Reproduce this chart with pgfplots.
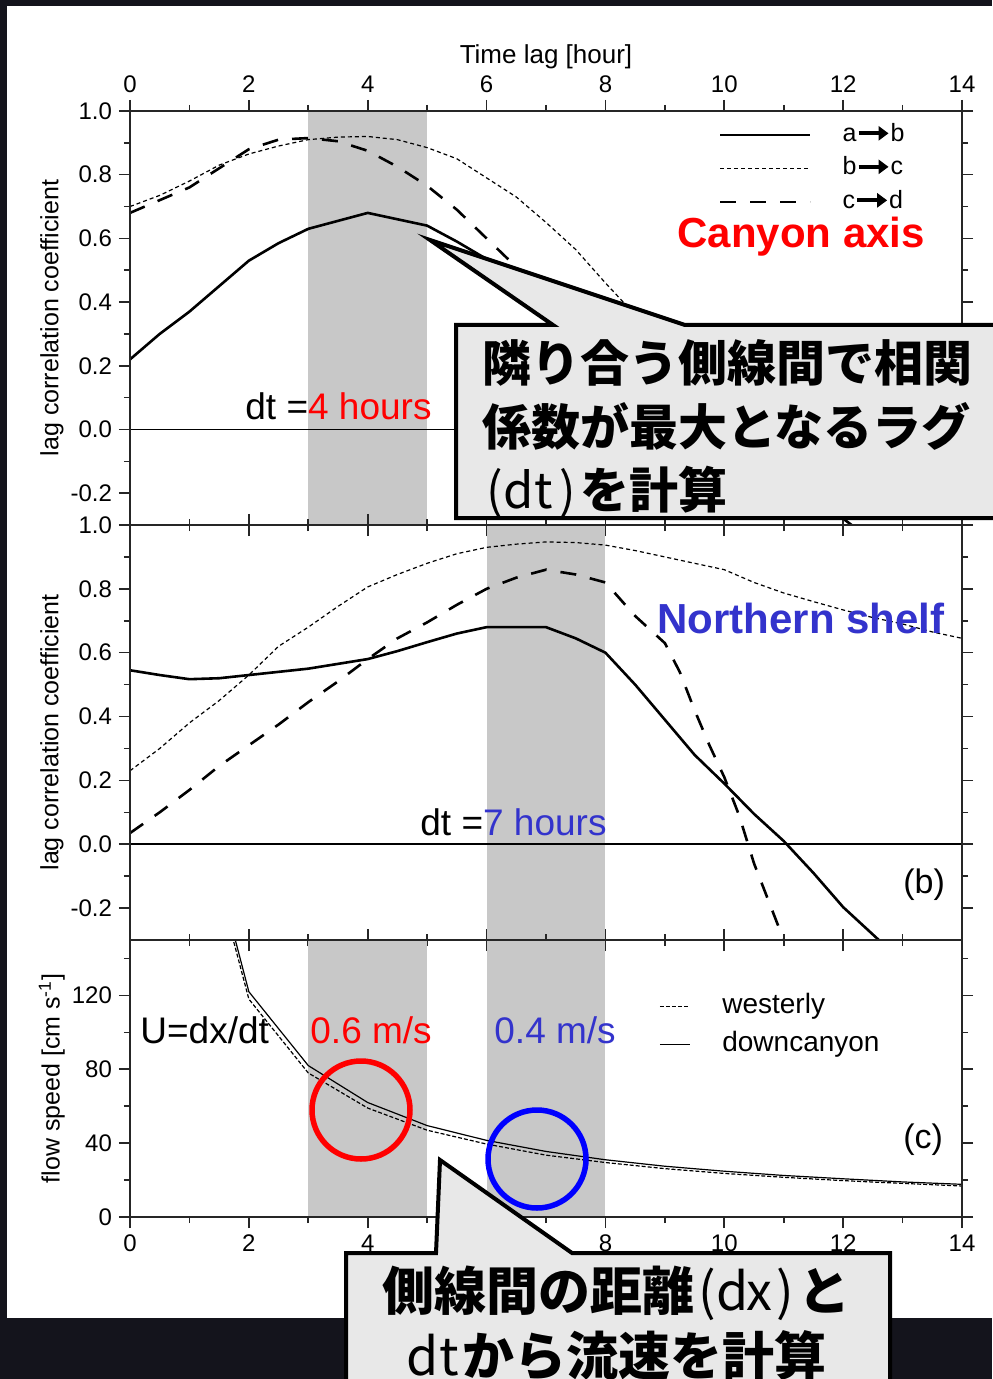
\documentclass[border=0pt]{standalone}
\usepackage{pgfplots}
\pgfplotsset{compat=1.18}
\usepackage{fontspec}
\setmainfont{Liberation Sans}
\newfontfamily\cjk{Noto Sans CJK JP}
\usetikzlibrary{arrows.meta}
\definecolor{bg}{RGB}{20,20,28}
\definecolor{shadegray}{RGB}{200,200,200}
\definecolor{boxfill}{RGB}{232,232,232}
\definecolor{myblue}{RGB}{51,51,204}
\definecolor{myred}{RGB}{255,0,0}
\newsavebox\arr
\newcommand\hw[1]{\makebox[0.5em][c]{\mdseries #1}}
\pgfplotsset{
  panel/.style={
    scale only axis, width=416pt, xmin=0, xmax=14,
    xtick={0,2,4,6,8,10,12,14}, minor xtick={1,3,5,7,9,11,13},
    tick align=outside, tick pos=both,
    major tick length=5.5pt, minor tick length=3pt,
    axis line style={black!85, line width=1pt},
    every tick/.style={black!85, line width=0.8pt},
    tick label style={font=\fontsize{12pt}{13pt}\selectfont},
    label style={font=\fontsize{12.5pt}{14pt}\selectfont},
    ylabel style={at={(axis description cs:-0.094,0.5)}, anchor=center},
    axis on top,
  },
  ab/.style={black, line width=1.3pt},
  bc/.style={black, line width=0.6pt, dash pattern=on 2pt off 1.5pt},
  cd/.style={black, line width=1.3pt, dash pattern=on 8pt off 7pt},
}
\begin{document}%
\sbox\arr{\tikz[baseline=0pt]\draw[line width=2pt,-{Triangle[length=5pt,width=7pt]}] (0,4pt) -- (15pt,4pt);}%
\begin{tikzpicture}
\path[use as bounding box] (0pt,0pt) rectangle (496pt,-689.5pt);
\fill[bg] (0pt,0pt) rectangle (496pt,-689.5pt);
\fill[white] (3.5pt,-3pt) rectangle (496pt,-659pt);

% ---------------- panel (a)
\begin{axis}[panel, at={(65pt,-55.5pt)}, anchor=north west, height=207pt,
  ymin=-0.3, ymax=1.0,
  ytick={-0.2,0,0.2,0.4,0.6,0.8,1.0}, yticklabels={-0.2,0.0,0.2,0.4,0.6,0.8,1.0},
  minor ytick={-0.1,0.1,0.3,0.5,0.7,0.9},
  xticklabel pos=upper, xticklabels={0,2,4,6,8,10,12,14},
  xlabel={Time lag [hour]},
  xlabel style={at={(axis description cs:0.5,1)}, anchor=center, yshift=27pt, font=\fontsize{13pt}{15pt}\selectfont},
  ylabel={lag correlation coefficient},
  legend style={draw=none, fill=none, at={(0.708,0.975)}, anchor=north west,
    inner sep=0pt, outer sep=0pt, row sep=0pt, font=\fontsize{12.5pt}{14pt}\selectfont,
    nodes={inner sep=0pt, text height=10pt, text depth=6.75pt}},
  legend cell align=left,
  legend image code/.code={\draw[#1] (0pt,1.6pt) -- (45pt,1.6pt); \path (60.5pt,0pt);},
]
\fill[shadegray] (axis cs:3,-0.3) rectangle (axis cs:5,1.0);
\addplot[black, line width=0.75pt, forget plot] coordinates {(0,0) (14,0)};
\addplot[ab] coordinates {(0,0.22) (0.5,0.30) (1,0.37) (1.5,0.45) (2,0.53) (2.5,0.585) (3,0.63) (3.5,0.655) (4,0.68) (4.5,0.66) (5,0.64) (5.5,0.59) (6,0.535) (6.5,0.48) (7,0.42) (8,0.29) (9,0.15) (10,0.01) (11,-0.14) (12,-0.28) (12.5,-0.35)};
\addlegendentry{a\usebox\arr b}
\addplot[bc] coordinates {(0,0.70) (0.5,0.735) (1,0.78) (1.5,0.83) (2,0.865) (2.5,0.89) (3,0.91) (3.5,0.918) (4,0.92) (4.5,0.91) (5,0.885) (5.5,0.85) (6,0.79) (6.5,0.73) (7,0.65) (7.5,0.565) (8,0.46) (8.5,0.36) (9,0.25) (10,0.04) (11,-0.2)};
\addlegendentry{b\usebox\arr c}
\addplot[cd] coordinates {(0,0.68) (0.5,0.72) (1,0.76) (1.5,0.82) (2,0.88) (2.5,0.91) (3,0.915) (3.5,0.905) (4,0.875) (4.5,0.825) (5,0.765) (5.5,0.69) (6,0.60) (6.5,0.51) (7,0.41) (8,0.2) (9,0.0) (9.5,-0.1)};
\addlegendentry{c\usebox\arr d}
\end{axis}

% ---------------- panel (b)
\begin{axis}[panel, at={(65pt,-262.5pt)}, anchor=north west, height=207.5pt,
  ymin=-0.3, ymax=1.0,
  ytick={-0.2,0,0.2,0.4,0.6,0.8,1.0}, yticklabels={-0.2,0.0,0.2,0.4,0.6,0.8,1.0},
  minor ytick={-0.1,0.1,0.3,0.5,0.7,0.9},
  xticklabels={},
  ylabel={lag correlation coefficient},
]
\fill[shadegray] (axis cs:6,-0.3) rectangle (axis cs:8,1.0);
\addplot[black, line width=0.75pt] coordinates {(0,0) (14,0)};
\addplot[ab] coordinates {(0,0.545) (0.5,0.53) (1,0.517) (1.5,0.52) (2,0.53) (2.5,0.54) (3,0.55) (3.5,0.565) (4,0.58) (4.5,0.605) (5,0.633) (5.5,0.66) (6,0.68) (6.5,0.68) (7,0.68) (7.5,0.645) (8,0.60) (8.5,0.50) (9,0.39) (9.5,0.28) (10,0.19) (10.5,0.095) (11,0.01) (11.5,-0.09) (12,-0.197) (12.6,-0.30)};
\addplot[bc] coordinates {(0,0.23) (0.5,0.30) (1,0.38) (1.5,0.45) (2,0.53) (2.5,0.62) (3,0.68) (3.5,0.745) (4,0.806) (4.5,0.845) (5,0.88) (5.5,0.91) (6,0.93) (6.5,0.94) (7,0.947) (7.5,0.945) (8,0.937) (8.5,0.92) (9,0.90) (9.5,0.88) (10,0.86) (10.5,0.82) (11,0.787) (11.5,0.76) (12,0.734) (12.5,0.71) (13,0.69) (13.5,0.665) (14,0.645)};
\addplot[cd] coordinates {(0,0.035) (0.5,0.10) (1,0.17) (1.5,0.245) (2,0.31) (2.5,0.375) (3,0.445) (3.5,0.51) (4,0.58) (4.5,0.645) (5,0.695) (5.5,0.75) (6,0.80) (6.5,0.835) (7,0.86) (7.5,0.845) (8,0.82) (8.5,0.715) (9,0.63) (9.25,0.54) (9.5,0.42) (9.75,0.31) (10,0.21) (10.25,0.09) (10.5,-0.06) (10.75,-0.18) (11,-0.30)};
\end{axis}

% ---------------- panel (c)
\begin{axis}[panel, at={(65pt,-470pt)}, anchor=north west, height=138.5pt,
  ymin=0, ymax=150,
  ytick={0,40,80,120}, yticklabels={0,40,80,120}, minor ytick={20,60,100,140},
  xticklabels={0,2,4,6,8,10,12,14},
  ylabel={flow speed [cm s\textsuperscript{-1}]},
  legend style={draw=none, fill=none, at={(0.636,0.815)}, anchor=north west,
    inner sep=0pt, outer sep=0pt, row sep=1.5pt, font=\fontsize{14pt}{16pt}\selectfont,
    nodes={inner sep=0pt, text height=11pt, text depth=6.5pt}},
  legend cell align=left,
  legend image code/.code={\draw[#1] (0pt,1pt) -- (15pt,1pt); \path (31pt,0pt);},
]
\fill[shadegray] (axis cs:3,0) rectangle (axis cs:5,150);
\fill[shadegray] (axis cs:6,0) rectangle (axis cs:8,150);
\addplot[black, line width=0.6pt, dash pattern=on 2pt off 1pt] coordinates {(1,240) (2,118) (3,78) (4,59) (5,47) (6,39.5) (7,33.5) (8,29.5) (9,26.2) (10,23.6) (11,21.5) (12,19.7) (13,18.2) (14,16.8)};
\addlegendentry{westerly}
\addplot[black, line width=0.6pt] coordinates {(1,245) (2,122) (3,82) (4,62) (5,49.5) (6,41.5) (7,35.5) (8,31) (9,27.5) (10,24.8) (11,22.5) (12,20.7) (13,19) (14,17.7)};
\addlegendentry{downcanyon}
\end{axis}

% ---------------- annotations
\begin{scope}[x=0.5pt,y=-0.5pt]
\node[anchor=base west, inner sep=0pt, font=\bfseries\fontsize{21pt}{23pt}\selectfont, text=myred] at (677,248) {Canyon axis};
\node[anchor=base west, inner sep=0pt, font=\bfseries\fontsize{21pt}{23pt}\selectfont, text=myblue] at (657,633) {Northern shelf};
\node[anchor=base west, inner sep=0pt, font=\fontsize{18.5pt}{20pt}\selectfont] at (245,420) {dt =\textcolor{myred}{4 hours}};
\node[anchor=base west, inner sep=0pt, font=\fontsize{18.5pt}{20pt}\selectfont] at (420,835) {dt =\textcolor{myblue}{7 hours}};
\node[anchor=base west, inner sep=0pt, font=\fontsize{18.5pt}{20pt}\selectfont] at (140,1043) {U=dx/dt};
\node[anchor=base west, inner sep=0pt, font=\fontsize{18.5pt}{20pt}\selectfont, text=myred] at (310,1043) {0.6 m/s};
\node[anchor=base west, inner sep=0pt, font=\fontsize{18.5pt}{20pt}\selectfont, text=myblue] at (494,1043) {0.4 m/s};
\node[anchor=base west, inner sep=0pt, font=\fontsize{17pt}{19pt}\selectfont] at (903,893) {(b)};
\node[anchor=base west, inner sep=0pt, font=\fontsize{17pt}{19pt}\selectfont] at (903,1148) {(c)};
\draw[myred, line width=2.75pt] (361,1110) circle [radius=24.5pt];
\draw[blue, line width=2.75pt] (537,1159) circle [radius=24.5pt];
% callout 1
\draw[line width=2pt, fill=boxfill] (456,325) -- (553,325) -- (430,240) -- (685,325) -- (1005,325) -- (1005,518) -- (456,518) -- cycle;
\node[anchor=base west, inner sep=0pt, font=\cjk\bfseries\fontsize{24.5pt}{25pt}\selectfont] at (482,382) {隣り合う側線間で相関};
\node[anchor=base west, inner sep=0pt, font=\cjk\bfseries\fontsize{24.5pt}{25pt}\selectfont] at (482,445) {係数が最大となるラグ};
\node[anchor=base west, inner sep=0pt, font=\cjk\bfseries\fontsize{24.5pt}{25pt}\selectfont] at (482,508) {\hw{(}\hw{d}\hw{t}\hw{)}を計算};
% callout 2
\draw[line width=2pt, fill=boxfill] (346,1253) -- (436,1253) -- (440,1160) -- (572,1253) -- (890,1253) -- (890,1400) -- (346,1400) -- cycle;
\node[anchor=base, inner sep=0pt, font=\cjk\bfseries\fontsize{26pt}{26pt}\selectfont] at (616,1310) {側線間の距離\hw{(}\hw{d}\hw{x}\hw{)}と};
\node[anchor=base, inner sep=0pt, font=\cjk\bfseries\fontsize{26pt}{26pt}\selectfont] at (618,1375) {\hw{d}\hw{t}から流速を計算};
\end{scope}
\end{tikzpicture}
\end{document}
